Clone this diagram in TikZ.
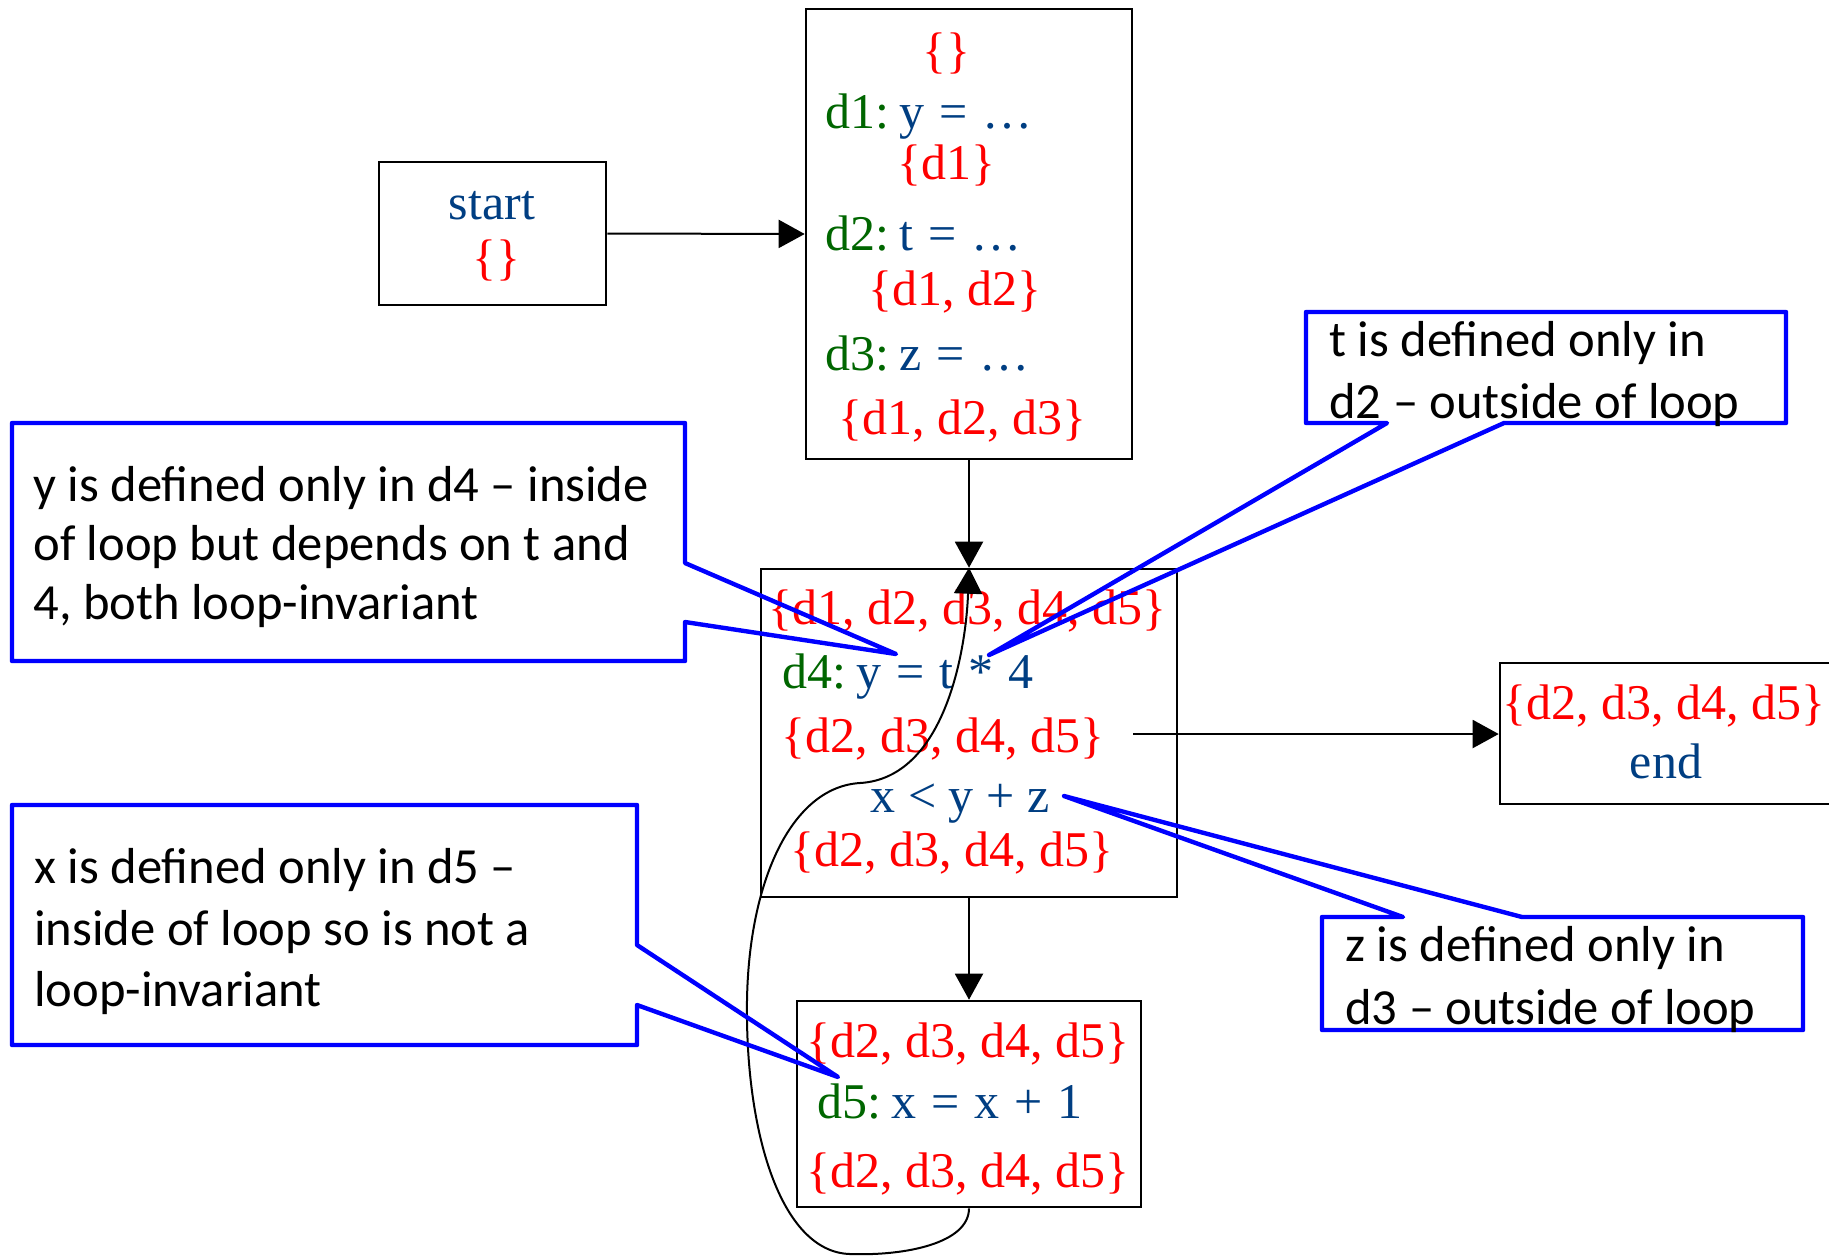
\documentclass[tikz,border=0pt]{standalone}
\usepackage{fontspec}
\setmainfont{Liberation Serif}
\newfontfamily\calfont{Carlito}
\usetikzlibrary{arrows.meta}
\definecolor{dgreen}{RGB}{0,102,0}
\definecolor{dblue}{RGB}{0,62,130}
\definecolor{sred}{RGB}{255,0,0}
\definecolor{cblue}{RGB}{0,0,255}
\newcommand{\lbl}[1]{\textcolor{dgreen}{#1}\hspace{0.2em}}
\newcommand{\widesp}{\spaceskip=0.3em\relax}
\begin{document}
\begin{tikzpicture}[x=0.5pt,y=-0.5pt,
  box/.style={draw,line width=1.3pt,inner sep=0pt,anchor=center},
  txt/.style={inner sep=0pt,font=\fontsize{25}{29}\selectfont,text height=17pt,text depth=5.5pt,yshift=-1.8pt},
  setx/.style={txt,text=sred},
  code/.style={txt,anchor=west,text=dblue,font=\fontsize{25}{29}\selectfont\widesp},
  note/.style={inner sep=0pt,anchor=west,font=\calfont\fontsize{25.3}{30}\selectfont,text height=17pt,text depth=5.5pt,yshift=-1pt},
  arr/.style={line width=1pt,-{Triangle[length=13pt,width=14pt]}},
  callout/.style={draw=cblue,line width=2.2pt,line join=round}]
\useasboundingbox (0,0) rectangle (1829,1255);
\clip (0,0) rectangle (1829,1255);
% boxes
\node[box,minimum width=113.5pt,minimum height=71.5pt] (start) at (492.5,233.5) {};
\node[box,minimum width=163pt,minimum height=225pt] (b1) at (969,234) {};
\node[box,minimum width=208pt,minimum height=164pt] (b2) at (969,733) {};
\node[box,minimum width=172pt,minimum height=103pt] (b3) at (969,1104) {};
\node[box,minimum width=175pt,minimum height=70.5pt] (endb) at (1675,733.5) {};
% start
\node[txt,text=dblue] (tstart) at (492,204) {start};
\node[setx] (sstart) at (496,259) {\{\}};
% b1
\node[setx] (s10) at (946,52) {\{\}};
\node[code] (c11) at (825,113) {\lbl{d1:}y = …};
\node[setx] (s11) at (946,164) {\{d1\}};
\node[code] (c12) at (825,235) {\lbl{d2:}t = …};
\node[setx] (s12) at (955,290) {\{d1, d2\}};
\node[code] (c13) at (825,355) {\lbl{d3:}z = …};
\node[setx] (s13) at (962,419) {\{d1, d2, d3\}};
% b2
\node[setx] (s20) at (967,609) {\{d1, d2, d3, d4, d5\}};
\node[code] (c21) at (782,673) {\lbl{d4:}y = t * 4};
\node[setx] (s21) at (943,737) {\{d2, d3, d4, d5\}};
\node[txt,text=dblue] (c22) at (960,797) {x < y + z};
\node[setx] (s22) at (952,851) {\{d2, d3, d4, d5\}};
% b3
\node[setx] (s30) at (968,1042) {\{d2, d3, d4, d5\}};
\node[code] (c31) at (817,1103) {\lbl{d5:}x = x + 1};
\node[setx] (s31) at (968,1172) {\{d2, d3, d4, d5\}};
% end
\node[setx] (send) at (1664,704) {\{d2, d3, d4, d5\}};
\node[txt,text=dblue] (tend) at (1666,763) {end};
% connectors
\coordinate (b2out) at (1133,734);
\draw[arr] (start.east) -- (b1.west);
\draw[arr] (b1.south) -- (b2.north);
\draw[arr] (b2.south) -- (b3.north);
\draw[arr] (b2out) -- (b2out -| endb.west);
\draw[arr] (b3.south) .. controls +(0,35) and (905,1256) .. (850,1254)
  .. controls (780,1252) and (745,1130) .. (747,1000)
  .. controls (749,880) and (792,787) .. (860,783)
  .. controls (945,778) and (966,650) .. (b2.north);
% callouts
\coordinate (tipT) at (989,655);
\coordinate (tipY) at (896,654);
\coordinate (tipX) at (838,1077);
\coordinate (tipZ) at (1064,796);
\draw[callout] (1306,312) -- (1786,312) -- (1786,423) -- (1504,423) -- (tipT) -- (1387,423) -- (1306,423) -- cycle;
\draw[callout] (12,423) -- (685,423) -- (685,563) -- (tipY) -- (685,622) -- (685,661) -- (12,661) -- cycle;
\draw[callout] (12,805) -- (637,805) -- (637,945) -- (tipX) -- (637,1005) -- (637,1045) -- (12,1045) -- cycle;
\draw[callout] (1322,917) -- (1403,917) -- (tipZ) -- (1522,917) -- (1803,917) -- (1803,1030) -- (1322,1030) -- cycle;
\node[note] (ny1) at (33,488) {y is defined only in d4 – inside};
\node[note] (ny2) at (33,547) {of loop but depends on t and};
\node[note] (ny3) at (33,606) {4, both loop-invariant};
\node[note] (nx1) at (34,870) {x is defined only in d5 –};
\node[note] (nx2) at (34,932) {inside of loop so is not a};
\node[note] (nx3) at (34,993) {loop-invariant};
\node[note] (nt1) at (1329,343) {t is defined only in};
\node[note] (nt2) at (1329,405) {d2 – outside of loop};
\node[note] (nz1) at (1345,948) {z is defined only in};
\node[note] (nz2) at (1345,1011) {d3 – outside of loop};
\end{tikzpicture}
\end{document}
